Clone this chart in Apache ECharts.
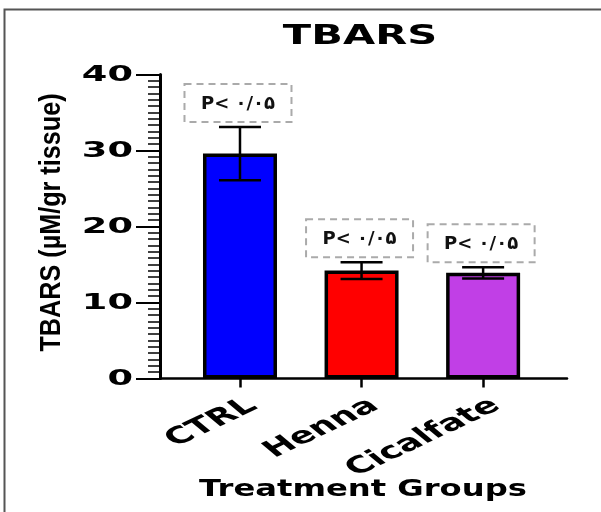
<!DOCTYPE html>
<html>
<head>
<meta charset="utf-8">
<script src="https://cdn.jsdelivr.net/npm/echarts@6/dist/echarts.min.js"></script>
<style>
  html, body { margin: 0; padding: 0; background: #fff; }
  #chart { width: 601px; height: 512px; }
</style>
</head>
<body>
<div id="chart"></div>
<script>
// data (mean +/- SEM)
var categories = ['CTRL', 'Henna', 'Cicalfate'];
var means = [29.6, 14.2, 13.9];
var sems = [3.5, 1.1, 0.75];
var sigLabels = ['P< ۰/۰۵', 'P< ۰/۰۵', 'P< ۰/۰۵'];
var yTicks = [0, 10, 20, 30, 40];

var titleText = 'TBARS';
var xName = 'Treatment Groups';
var yName = 'TBARS (µM/gr tissue)';

var barColors = ['#0000ff', '#ff0000', '#c13fe6'];
var FONT = '"DejaVu Sans", sans-serif';

var chart = echarts.init(document.getElementById('chart'));

function renderErr(params, api) {
  var i = api.value(0), m = api.value(1), e = api.value(2);
  var top = api.coord([i, m + e]);
  var bot = api.coord([i, m - e]);
  var cw = 21;
  var boxW = 107, boxH = 38;
  var bx = top[0] - boxW / 2 - 2, by = top[1] - 5 - boxH;
  var ln = {stroke: '#000', lineWidth: 2.5};
  return {
    type: 'group',
    children: [
      {type: 'line', shape: {x1: top[0], y1: top[1], x2: bot[0], y2: bot[1]}, style: ln},
      {type: 'line', shape: {x1: top[0] - cw, y1: top[1], x2: top[0] + cw, y2: top[1]}, style: ln},
      {type: 'line', shape: {x1: bot[0] - cw, y1: bot[1], x2: bot[0] + cw, y2: bot[1]}, style: ln},
      {type: 'rect', shape: {x: bx, y: by, width: boxW, height: boxH},
        style: {fill: null, stroke: '#aaa', lineWidth: 2, lineDash: [7, 5]}},
      {type: 'text', style: {text: sigLabels[params.dataIndex], x: bx + boxW / 2, y: by + boxH / 2 + 1,
        align: 'center', verticalAlign: 'middle', font: 'bold 18px ' + FONT, fill: '#111'}}
    ]
  };
}

chart.setOption({
  animation: false,
  grid: {left: 160, right: 34, top: 74.5, bottom: 133.5},
  xAxis: {
    type: 'value',
    min: -0.658,
    max: 2.69,
    splitLine: {show: false},
    axisLine: {show: true, onZero: false, lineStyle: {color: '#000', width: 2.5}},
    axisTick: {show: true, customValues: [0, 1, 2], length: 9, lineStyle: {color: '#000', width: 2.5}},
    axisLabel: {show: false}
  },
  yAxis: {
    type: 'value',
    min: 0,
    max: 40,
    interval: 10,
    splitLine: {show: false},
    axisLine: {show: true, onZero: false, lineStyle: {color: '#000', width: 3}},
    axisTick: {show: true, length: 24, lineStyle: {color: '#000', width: 2}},
    minorTick: {show: true, splitNumber: 12, length: 12, lineStyle: {color: '#000', width: 1.5}},
    axisLabel: {show: false}
  },
  series: [
    {
      type: 'bar',
      barWidth: 74,
      data: means.map(function (m, i) {
        return {value: [i, m], itemStyle: {color: barColors[i]}};
      }),
      itemStyle: {borderColor: '#000', borderWidth: 3.5}
    },
    {
      type: 'custom',
      z: 5,
      renderItem: renderErr,
      data: means.map(function (m, i) { return [i, m, sems[i]]; })
    }
  ]
});

// stretched / condensed bold texts, placed through the axes' own scales
var yMid = chart.convertToPixel({yAxisIndex: 0}, 20);
var g = [
  {type: 'polyline', shape: {points: [[4.5, 512], [4.5, 9.5], [601, 9.5]]},
    style: {stroke: '#555', lineWidth: 2, fill: null}},
  {type: 'text', x: 360, y: 37, scaleX: 1.6,
    style: {text: titleText, align: 'center', verticalAlign: 'middle', font: 'bold 26px ' + FONT, fill: '#000'}},
  {type: 'text', x: 363, y: 490, scaleX: 1.4,
    style: {text: xName, align: 'center', verticalAlign: 'middle', font: 'bold 23px ' + FONT, fill: '#000'}},
  {type: 'text', x: 52, y: yMid - 4, rotation: Math.PI / 2, scaleX: 0.84,
    style: {text: yName, align: 'center', verticalAlign: 'middle',
      font: 'bold 30px "Liberation Sans", Arial, sans-serif', fill: '#000'}}
];
yTicks.forEach(function (v) {
  var y = chart.convertToPixel({yAxisIndex: 0}, v);
  g.push({type: 'text', x: 133, y: y + 1, scaleX: 1.75,
    style: {text: String(v), align: 'right', verticalAlign: 'middle', font: 'bold 21px ' + FONT, fill: '#000'}});
});
categories.forEach(function (c, i) {
  var x = chart.convertToPixel({xAxisIndex: 0}, i);
  g.push({type: 'group', x: x + 2, y: 394, scaleX: 1.6, children: [
    {type: 'text', rotation: 37 * Math.PI / 180,
      style: {text: c, align: 'right', verticalAlign: 'top', font: 'bold 23px ' + FONT, fill: '#000'}}
  ]});
});
chart.setOption({graphic: g});
</script>
</body>
</html>
